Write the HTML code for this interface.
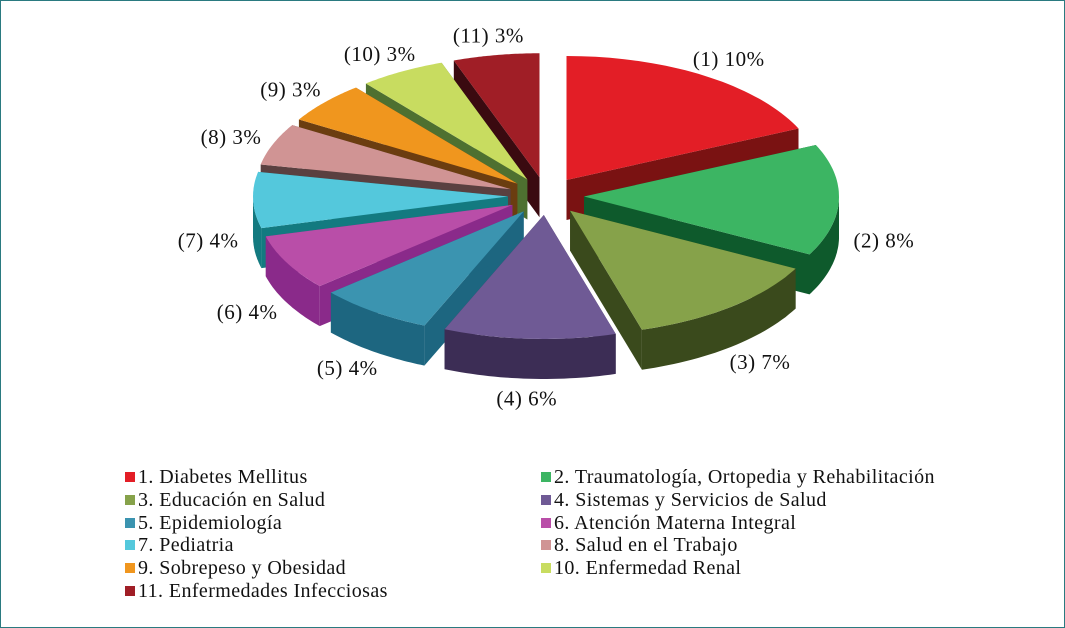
<!DOCTYPE html>
<html><head><meta charset="utf-8"><style>
body{margin:0;background:#fff;}
#wrap{position:relative;width:1063px;height:626px;border:1px solid #2a7a80;background:#fff;font-family:"Liberation Serif",serif;overflow:hidden}
svg{position:absolute;left:0;top:0}
.leg{position:absolute;font-size:20px;letter-spacing:0.4px;color:#111;white-space:nowrap;line-height:20px}
.leg i{display:inline-block;width:10px;height:10px;margin-right:3px;vertical-align:1px}
</style></head><body>
<div id="wrap">
<svg id="pie" width="1063" height="460"></svg>
<div id="legend"></div>
</div>
<script>
const categories=["1. Diabetes Mellitus","2. Traumatología, Ortopedia y Rehabilitación","3. Educación en Salud","4. Sistemas y Servicios de Salud","5. Epidemiología","6. Atención Materna Integral","7. Pediatria","8. Salud en el Trabajo","9. Sobrepeso y Obesidad","10. Enfermedad Renal","11. Enfermedades Infecciosas"];
const values=[10,8,7,6,4,4,4,3,3,3,3];
const labels=["(1) 10%","(2) 8%","(3) 7%","(4) 6%","(5) 4%","(6) 4%","(7) 4%","(8) 3%","(9) 3%","(10) 3%","(11) 3%"];
const topColors=["#e31e26","#3cb563","#86a24a","#6f5a95","#3b94b0","#b94ea8","#54c8dc","#d09494","#f0961e","#c8dc60","#a01e26"];
const sideColors=["#7a1212","#0e5a2c","#3a4a1c","#3c2d55","#1d6680","#8a2a8a","#137a80","#5a4040","#6b3d10","#4e7030","#3a0a10"];

const NS="http://www.w3.org/2000/svg";
const svg=document.getElementById('pie');
const cx=545,cy=195,rx=255,ry=124,depth=40,ex=38;
const total=values.reduce((a,b)=>a+b,0);
const rad=d=>d*Math.PI/180;
function pt(ox,oy,a,dy){return [ox+rx*Math.sin(rad(a)),oy-ry*Math.cos(rad(a))+(dy||0)];}
function P(p){return p[0].toFixed(1)+","+p[1].toFixed(1);}
let acc=0;const slices=[];
values.forEach((v,i)=>{const a0=acc/total*360;acc+=v;const a1=acc/total*360;slices.push({i,a0,a1,m:(a0+a1)/2});});
const order=slices.slice().sort((a,b)=>Math.cos(rad(b.m))-Math.cos(rad(a.m)));
order.forEach(s=>{
  const ox=cx+ex*Math.sin(rad(s.m)), oy=cy-ex*0.5*Math.cos(rad(s.m));
  const g=document.createElementNS(NS,'g');
  
  
  [s.a0,s.a1].forEach(a=>{
    const p=pt(ox,oy,a);
    const q=document.createElementNS(NS,'polygon');
    q.setAttribute('points',[ [ox,oy],p,[p[0],p[1]+depth],[ox,oy+depth] ].map(P).join(' '));
    q.setAttribute('fill',sideColors[s.i]);
    
    
    g.appendChild(q);
  });
  const b0=Math.max(s.a0,90),b1=Math.min(s.a1,270);
  if(b1>b0){
    const ptsT=[],ptsB=[];
    for(let k=0;k<=30;k++){const a=b0+(b1-b0)*k/30;ptsT.push(pt(ox,oy,a));ptsB.push(pt(ox,oy,a,depth));}
    const w=document.createElementNS(NS,'polygon');
    w.setAttribute('points',ptsT.concat(ptsB.reverse()).map(P).join(' '));
    w.setAttribute('fill',sideColors[s.i]);
    
    
    g.appendChild(w);
  }
  const tp=[[ox,oy]];
  for(let k=0;k<=40;k++){tp.push(pt(ox,oy,s.a0+(s.a1-s.a0)*k/40));}
  const t=document.createElementNS(NS,'polygon');
  t.setAttribute('points',tp.map(P).join(' '));
  t.setAttribute('fill',topColors[s.i]);
  
  
  g.appendChild(t);
  svg.appendChild(g);
});
slices.forEach(s=>{
  const c=Math.cos(rad(s.m)),sn=Math.sin(rad(s.m));
  const x=cx+(rx+ex+45)*sn;
  const y=cy-(ry+ex*0.5+20)*c+(c<0?depth:0)+7;
  const t=document.createElementNS(NS,'text');
  t.setAttribute('x',x.toFixed(1));t.setAttribute('y',y.toFixed(1));
  t.setAttribute('text-anchor','middle');
  t.setAttribute('font-family','"Liberation Serif", serif');
  t.setAttribute('font-size','21');t.setAttribute('letter-spacing','0.5');t.setAttribute('fill','#111');
  t.textContent=labels[s.i];
  
  
  svg.appendChild(t);
});
const leg=document.getElementById('legend');
categories.forEach((c,i)=>{
  const d=document.createElement('div');
  d.className='leg';
  d.style.left=(i%2?540:124)+'px';
  d.style.top=(466+Math.floor(i/2)*22.8)+'px';
  d.innerHTML='<i style="background:'+topColors[i]+'"></i>'+c;
  
  
  leg.appendChild(d);
});
</script>
</body></html>
